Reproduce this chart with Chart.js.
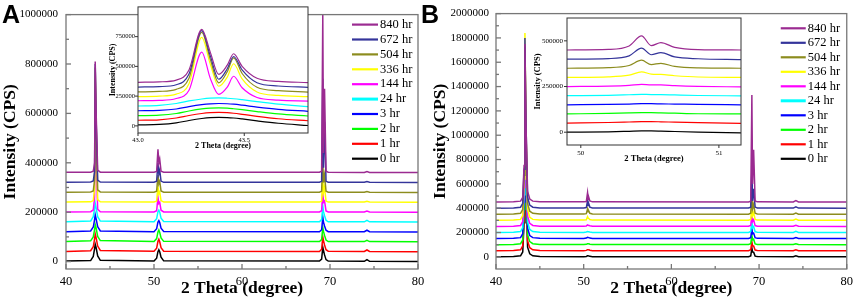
<!DOCTYPE html>
<html>
<head>
<meta charset="utf-8">
<title>XRD patterns vs. milling time</title>
<script src="https://cdn.jsdelivr.net/npm/chart.js@4.4.1/dist/chart.umd.min.js"></script>
<style>
  html, body { margin: 0; padding: 0; background: #fff; }
  #figure { position: relative; width: 858px; height: 308px; overflow: hidden; }
  #figure canvas { position: absolute; top: 0; }
  .tag { position: absolute; top: 0; font-family: 'Liberation Sans', Arial, sans-serif;
         font-weight: bold; font-size: 25px; line-height: 28px; color: #000; }
</style>
</head>
<body>
<div id="figure">
  <canvas id="mainA" width="430" height="308" style="left:0"></canvas>
  <canvas id="mainB" width="428" height="308" style="left:430px"></canvas>
  <canvas id="insetA" width="215" height="152" style="left:100px"></canvas>
  <canvas id="insetB" width="228" height="166" style="left:520px"></canvas>
  <div class="tag" style="left:2px">A</div>
  <div class="tag" style="left:421px">B</div>
</div>

<script>
// Series (top of the stack first, so it is drawn on top)
const hourLabels = ['840 hr', '672 hr', '504 hr', '336 hr', '144 hr', '24 hr', '3 hr', '2 hr', '1 hr', '0 hr'];
const lineColors = ['#9b2b91', '#34349a', '#8c8c1e', '#ffff00', '#ff00ff', '#00ffff', '#0000ff', '#00ff00', '#ff0000', '#000000'];

// Stacking offsets (CPS) used in each panel
const offsetsA = [360000, 320000, 280000, 240000, 200000, 160000, 120000, 80000, 40000, 0];
const offsetsB = [450000, 400000, 350000, 300000, 250000, 200000, 150000, 100000, 50000, 0];

// Tick labels
const xTicksMain = [40, 50, 60, 70, 80];
const yTicksA = [0, 200000, 400000, 600000, 800000, 1000000];
const yTicksB = [0, 200000, 400000, 600000, 800000, 1000000, 1200000, 1400000, 1600000, 1800000, 2000000];
const xTicksInsetA = [43.0, 43.5];
const yTicksInsetA = [0, 250000, 500000, 750000];
const xTicksInsetB = [50, 51];
const yTicksInsetB = [0, 250000, 500000];

// Panel A, full scan: 2 theta and intensity above each offset
const thetaA = [40, 42.8, 43.1, 43.25, 43.32, 43.42, 43.6, 43.9, 50.0, 50.3, 50.45, 50.55, 50.65, 50.8, 51.1,
                68.8, 69.05, 69.18, 69.26, 69.38, 69.55, 69.8, 73.9, 74.2, 74.5, 80];
const countsA = [
  [2000, 2000, 6000, 40000, 450000, 250000, 10000, 2000, 2000, 5000, 95000, 40000, 55000, 6000, 2000, 2000, 6000, 640000, 80000, 340000, 6000, 2000, 1000, 5000, 1000, 1000], // 840
  [1000, 2000, 6000, 45000, 480000, 263000, 10000, 2000, 1000, 5000, 80000, 35000, 50000, 6000, 1000, 1000, 5000, 420000, 60000, 245000, 5000, 1000, 1000, 4000, 1000, 0],   // 672
  [1000, 2000, 6000, 50000, 506000, 292000, 10000, 2000, 1000, 5000, 70000, 35000, 45000, 6000, 1000, 1000, 5000, 130000, 40000, 70000, 5000, 1000, 1000, 4000, 1000, 0],    // 504
  [1000, 2000, 7000, 55000, 504000, 282000, 11000, 2000, 1000, 5000, 65000, 35000, 42000, 7000, 1000, 1000, 5000, 110000, 40000, 60000, 5000, 1000, 1000, 4000, 1000, 0],    // 336
  [1000, 2000, 9000, 60000, 420000, 217000, 12000, 2000, 1000, 6000, 60000, 35000, 40000, 8000, 1000, 1000, 6000, 90000, 40000, 45000, 5000, 1000, 1000, 5000, 1000, 0],     // 144
  [1000, 4000, 22000, 55000, 76000, 58000, 22000, 4000, 1000, 14000, 42000, 48000, 40000, 16000, 2000, 1000, 10000, 65000, 42000, 26000, 7000, 1000, 1000, 7000, 1000, 0],  // 24
  [1000, 4000, 20000, 50000, 70000, 54000, 21000, 4000, 1000, 13000, 40000, 46000, 38000, 15000, 2000, 1000, 9000, 60000, 40000, 24000, 7000, 1000, 1000, 7000, 1000, 0],   // 3
  [1000, 4000, 20000, 50000, 70000, 56000, 22000, 5000, 1000, 13000, 40000, 48000, 38000, 16000, 2000, 1000, 9000, 58000, 42000, 26000, 7000, 1000, 1000, 6000, 1000, 0],   // 2
  [1000, 4000, 20000, 52000, 72000, 57000, 23000, 5000, 2000, 14000, 42000, 50000, 40000, 16000, 2000, 1000, 10000, 60000, 45000, 27000, 8000, 2000, 1000, 7000, 1000, 0],  // 1
  [2000, 4000, 21000, 52000, 70000, 57000, 23000, 5000, 2000, 14000, 40000, 48000, 40000, 18000, 3000, 2000, 10000, 58000, 45000, 27000, 8000, 2000, 1000, 8000, 1000, 0]   // 0
];

// Panel B, full scan
const thetaB = [40, 42.0, 42.8, 43.05, 43.2, 43.3, 43.42, 43.6, 43.85, 44.2, 45.0, 50.0, 50.3, 50.44, 50.51, 50.58, 50.7, 51.0,
                68.8, 69.05, 69.18, 69.26, 69.38, 69.55, 69.8, 73.9, 74.2, 74.5, 80];
const countsB = [
  [0, 2000, 8000, 40000, 300000, 1300000, 650000, 90000, 25000, 8000, 2000, 2000, 5000, 77000, 24000, 40000, 10000, 2000, 1000, 8000, 880000, 150000, 430000, 10000, 2000, 1000, 12000, 1000, 0], // 840
  [0, 2000, 8000, 40000, 320000, 1400000, 700000, 90000, 25000, 8000, 2000, 2000, 5000, 60000, 22000, 36000, 9000, 2000, 1000, 8000, 320000, 60000, 160000, 9000, 2000, 1000, 12000, 1000, 0],  // 672
  [0, 2000, 8000, 40000, 320000, 1380000, 690000, 90000, 25000, 8000, 2000, 2000, 5000, 44000, 20000, 27000, 8000, 2000, 1000, 8000, 150000, 45000, 80000, 8000, 2000, 1000, 10000, 1000, 0],   // 504
  [0, 2000, 8000, 40000, 340000, 1540000, 760000, 90000, 25000, 8000, 2000, 2000, 4000, 30000, 18000, 16000, 7000, 2000, 1000, 8000, 120000, 40000, 65000, 8000, 2000, 1000, 10000, 1000, 0],   // 336
  [0, 2000, 8000, 40000, 320000, 1350000, 670000, 85000, 25000, 8000, 2000, 2000, 4000, 12000, 9000, 9000, 5000, 1000, 1000, 8000, 100000, 40000, 55000, 7000, 2000, 1000, 9000, 1000, 0],    // 144
  [0, 2000, 8000, 40000, 310000, 1250000, 620000, 85000, 25000, 8000, 2000, 1000, 4000, 8000, 7000, 7000, 4000, 1000, 1000, 8000, 90000, 40000, 50000, 7000, 2000, 1000, 9000, 1000, 0],      // 24
  [0, 2000, 8000, 40000, 300000, 1200000, 600000, 85000, 25000, 8000, 2000, 1000, 4000, 10000, 9000, 8000, 4000, 1000, 1000, 8000, 85000, 40000, 45000, 7000, 2000, 1000, 9000, 1000, 0],     // 3
  [0, 2000, 8000, 40000, 290000, 1150000, 580000, 80000, 25000, 8000, 2000, 1000, 3000, 8000, 8000, 7000, 4000, 1000, 1000, 8000, 80000, 40000, 45000, 6000, 2000, 1000, 8000, 1000, 0],      // 2
  [0, 2000, 8000, 40000, 280000, 1100000, 560000, 80000, 25000, 8000, 2000, 1000, 3000, 9000, 9000, 8000, 4000, 1000, 1000, 8000, 75000, 40000, 40000, 6000, 2000, 1000, 8000, 1000, 0],      // 1
  [0, 2000, 8000, 40000, 280000, 1100000, 560000, 80000, 25000, 8000, 2000, 1000, 3000, 8000, 8000, 7000, 4000, 1000, 1000, 8000, 72000, 40000, 38000, 6000, 2000, 1000, 8000, 1000, 0]       // 0
];

// Panel A inset: (111) peak region
const thetaInsetA = [43.0, 43.1, 43.18, 43.24, 43.30, 43.34, 43.38, 43.42, 43.45, 43.49, 43.56, 43.66, 43.8];
const countsInsetA = [
  [6000, 10000, 25000, 110000, 451000, 260000, 73000, 150000, 246000, 140000, 40000, 14000, 4000], // 840
  [6000, 10000, 26000, 115000, 480000, 270000, 72000, 160000, 263000, 150000, 42000, 15000, 4000], // 672
  [5000, 10000, 27000, 120000, 506000, 280000, 81000, 175000, 292000, 160000, 45000, 16000, 4000], // 504
  [5000, 10000, 27000, 115000, 504000, 280000, 93000, 170000, 282000, 155000, 45000, 16000, 5000], // 336
  [11000, 14000, 30000, 100000, 420000, 200000, 64000, 125000, 217000, 120000, 38000, 16000, 8000], // 144
  [7000, 12000, 28000, 50000, 66000, 73000, 75000, 72000, 68000, 60000, 44000, 22000, 2000],       // 24
  [7000, 10000, 22000, 42000, 58000, 65000, 68000, 66000, 62000, 54000, 38000, 19000, 2000],       // 3
  [6000, 10000, 24000, 45000, 62000, 69000, 71000, 69000, 64000, 56000, 40000, 20000, 3000],       // 2
  [7000, 11000, 26000, 47000, 64000, 71000, 73000, 71000, 66000, 57000, 40000, 20000, 3000],       // 1
  [8000, 12000, 25000, 45000, 62000, 70000, 72000, 70000, 66000, 58000, 42000, 22000, 3000]        // 0
];

// Panel B inset: (200) peak region
const thetaInsetB = [49.9, 50.2, 50.35, 50.44, 50.51, 50.58, 50.68, 50.85, 51.16];
const countsInsetB = [
  [0, 3000, 22000, 77000, 24000, 40000, 14000, 2000, 0],     // 840
  [0, 3000, 18000, 60000, 24000, 36000, 12000, 2000, -3000], // 672
  [0, 3000, 15000, 44000, 20000, 27000, 10000, 2000, 0],     // 504
  [0, 3000, 12000, 30000, 18000, 16000, 9000, 2000, 0],      // 336
  [0, 2000, 6000, 12000, 9000, 9000, 5000, 1000, -2000],     // 144
  [0, 2000, 5000, 7000, 6000, 6000, 4000, 1000, -1000],      // 24
  [0, 2000, 4000, 6000, 6000, 5000, 4000, 2000, 0],          // 3
  [0, 3000, 6000, 7000, 7000, 6000, 4000, 1000, 0],          // 2
  [0, 3000, 6000, 8000, 8000, 7000, 5000, 2000, -2000],      // 1
  [0, 2000, 5000, 7000, 7000, 6000, 4000, 1000, -4000]       // 0
];

const SERIF = "'Liberation Serif', 'Times New Roman', serif";

// White plot area, grey frame and tick marks
const framePlugin = {
    id: 'frame',
    beforeDatasetsDraw(chart) {
        const a = chart.chartArea;
        chart.ctx.save();
        chart.ctx.fillStyle = '#fff';
        chart.ctx.fillRect(a.left, a.top, a.width, a.height);
        chart.ctx.restore();
    },
    afterDraw(chart, args, opts) {
        const { ctx, chartArea: a, scales } = chart;
        const dir = opts.outward ? 1 : -1;
        ctx.save();
        ctx.strokeStyle = opts.color;
        ctx.lineWidth = opts.width;
        ctx.strokeRect(a.left, a.top, a.width, a.height);

        scales.x.ticks.forEach((t, i, arr) => {
            const px = scales.x.getPixelForValue(t.value);
            ctx.beginPath();
            ctx.moveTo(px, a.bottom);
            ctx.lineTo(px, a.bottom + dir * opts.major);
            ctx.stroke();
            if (opts.minor && i < arr.length - 1) {
                const mx = scales.x.getPixelForValue((t.value + arr[i + 1].value) / 2);
                ctx.beginPath();
                ctx.moveTo(mx, a.bottom);
                ctx.lineTo(mx, a.bottom + dir * opts.minor);
                ctx.stroke();
            }
        });
        scales.y.ticks.forEach((t, i, arr) => {
            const py = scales.y.getPixelForValue(t.value);
            ctx.beginPath();
            ctx.moveTo(a.left, py);
            ctx.lineTo(a.left - dir * opts.major, py);
            ctx.stroke();
            if (opts.minor && i < arr.length - 1) {
                const my = scales.y.getPixelForValue((t.value + arr[i + 1].value) / 2);
                ctx.beginPath();
                ctx.moveTo(a.left, my);
                ctx.lineTo(a.left - dir * opts.minor, my);
                ctx.stroke();
            }
        });
        ctx.restore();
    }
};

// Legend drawn inside the plot, at the upper right
const sideLegendPlugin = {
    id: 'sideLegend',
    afterDatasetsDraw(chart, args, opts) {
        if (!opts.show) return;
        const { ctx, chartArea: a } = chart;
        ctx.save();
        ctx.font = opts.font;
        ctx.textBaseline = 'middle';
        ctx.fillStyle = '#000';
        chart.data.datasets.forEach((ds, i) => {
            const y = a.top + opts.top + i * opts.step;
            ctx.strokeStyle = ds.borderColor;
            ctx.lineWidth = i === 5 ? 3 : 2.2;
            ctx.beginPath();
            ctx.moveTo(a.right - opts.lineStart, y);
            ctx.lineTo(a.right - opts.lineEnd, y);
            ctx.stroke();
            ctx.fillText(ds.label, a.right - opts.lineEnd + 2, y);
        });
        ctx.restore();
    }
};

function buildDatasets(xs, counts, offsets, width, smooth) {
    return hourLabels.map((label, i) => ({
        label: label,
        data: xs.map((x, j) => ({ x: x, y: counts[i][j] + offsets[i] })),
        borderColor: lineColors[i],
        borderWidth: width,
        pointRadius: 0,
        tension: 0,
        cubicInterpolationMode: smooth ? 'monotone' : 'default',
        fill: false
    }));
}

function createXrdChart(canvasId, cfg) {
    const ctx = document.getElementById(canvasId).getContext('2d');
    return new Chart(ctx, {
        type: 'line',
        data: { datasets: cfg.datasets },
        options: {
            responsive: false,
            animation: false,
            events: [],
            layout: { padding: cfg.padding },
            plugins: {
                legend: { display: false },
                tooltip: { enabled: false },
                frame: cfg.frame,
                sideLegend: cfg.legend || { show: false }
            },
            scales: {
                x: {
                    type: 'linear',
                    min: cfg.xMin,
                    max: cfg.xMax,
                    afterBuildTicks: s => { s.ticks = cfg.xTicks.map(v => ({ value: v })); },
                    afterFit: s => { s.height = cfg.xHeight; },
                    grid: { display: false, drawTicks: false },
                    border: { display: false },
                    ticks: {
                        autoSkip: false, maxRotation: 0, padding: cfg.xTickPad, color: '#000',
                        font: { family: SERIF, size: cfg.tickSize },
                        callback: cfg.xFormat
                    },
                    title: {
                        display: true, text: '2 Theta (degree)', color: '#000',
                        font: { family: SERIF, size: cfg.titleSize, weight: 'bold' },
                        padding: { top: 0, bottom: cfg.xTitlePad }
                    }
                },
                y: {
                    type: 'linear',
                    min: cfg.yMin,
                    max: cfg.yMax,
                    afterBuildTicks: s => { s.ticks = cfg.yTicks.map(v => ({ value: v })); },
                    afterFit: s => { s.width = cfg.yWidth; },
                    grid: { display: false, drawTicks: false },
                    border: { display: false },
                    ticks: {
                        autoSkip: false, padding: cfg.yTickPad, color: '#000',
                        font: { family: SERIF, size: cfg.yTickSize || cfg.tickSize },
                        callback: v => String(v)
                    },
                    title: {
                        display: true, text: 'Intensity (CPS)', color: '#000',
                        font: { family: SERIF, size: cfg.titleSize, weight: 'bold' },
                        padding: { top: cfg.yTitlePad, bottom: 0 }
                    }
                }
            }
        },
        plugins: [framePlugin, sideLegendPlugin]
    });
}

const mainFrame = { color: '#777', width: 1.3, major: 5, minor: 3, outward: false };
const insetFrame = { color: '#333', width: 1, major: 3, minor: 0, outward: true };

// Panel A
createXrdChart('mainA', {
    datasets: buildDatasets(thetaA, countsA, offsetsA, 1.5, false),
    padding: { top: 6, right: 12, left: 0, bottom: 0 },
    xMin: 40, xMax: 80, xTicks: xTicksMain, xHeight: 39, xTickPad: 5, xTitlePad: 9,
    yMin: -30000, yMax: 1000000, yTicks: yTicksA, yWidth: 66, yTickPad: 8, yTitlePad: 0,
    tickSize: 12.5, yTickSize: 11, titleSize: 17.5,
    xFormat: v => String(v),
    frame: mainFrame,
    legend: { show: true, font: '12.5px ' + SERIF, top: 10, step: 14.9, lineStart: 66, lineEnd: 40 }
});

// Panel B
createXrdChart('mainB', {
    datasets: buildDatasets(thetaB, countsB, offsetsB, 1.5, false),
    padding: { top: 6, right: 7, left: 0, bottom: 0 },
    xMin: 40, xMax: 80, xTicks: xTicksMain, xHeight: 39, xTickPad: 5, xTitlePad: 9,
    yMin: -100000, yMax: 2000000, yTicks: yTicksB, yWidth: 66, yTickPad: 7, yTitlePad: 0,
    tickSize: 12.5, yTickSize: 11, titleSize: 17.5,
    xFormat: v => String(v),
    frame: mainFrame,
    legend: { show: true, font: '12.5px ' + SERIF, top: 14.7, step: 14.5, lineStart: 66, lineEnd: 41 }
});

// Inset of panel A
createXrdChart('insetA', {
    datasets: buildDatasets(thetaInsetA, countsInsetA, offsetsA, 1.2, true),
    padding: { top: 6, right: 7, left: 0, bottom: 0 },
    xMin: 43.0, xMax: 43.8, xTicks: xTicksInsetA, xHeight: 19, xTickPad: 3, xTitlePad: 1,
    yMin: -60000, yMax: 1000000, yTicks: yTicksInsetA, yWidth: 38, yTickPad: 3, yTitlePad: 8,
    tickSize: 6.5, titleSize: 8,
    xFormat: v => v.toFixed(1),
    frame: insetFrame
});

// Inset of panel B
createXrdChart('insetB', {
    datasets: buildDatasets(thetaInsetB, countsInsetB, offsetsB, 1.2, true),
    padding: { top: 18, right: 7, left: 0, bottom: 0 },
    xMin: 49.9, xMax: 51.16, xTicks: xTicksInsetB, xHeight: 21, xTickPad: 4, xTitlePad: 2,
    yMin: -70000, yMax: 625000, yTicks: yTicksInsetB, yWidth: 47, yTickPad: 4, yTitlePad: 13,
    tickSize: 7, titleSize: 8.5,
    xFormat: v => String(v),
    frame: insetFrame
});
</script>
</body>
</html>
